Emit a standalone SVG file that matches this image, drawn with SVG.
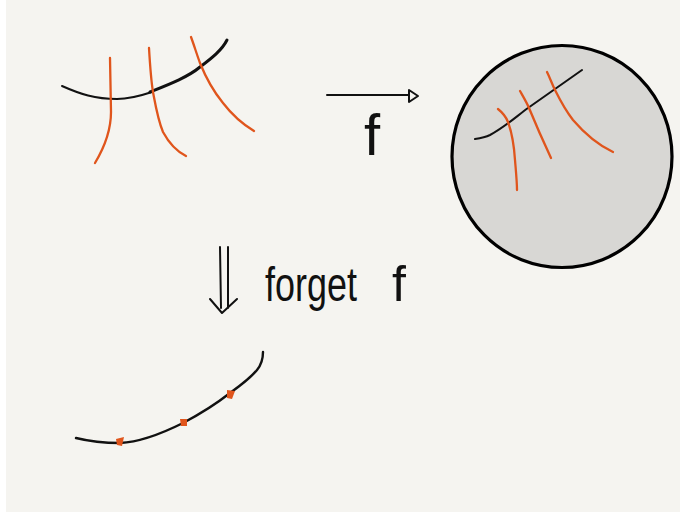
<svg xmlns="http://www.w3.org/2000/svg" width="680" height="512" viewBox="0 0 680 512">
<style>
.blk{fill:none;stroke:#111;stroke-linecap:round;stroke-linejoin:round}
.org{fill:none;stroke:#e0551c;stroke-width:2.3;stroke-linecap:round}
.hand{font-family:"Liberation Sans",Arial,sans-serif;fill:#111}
</style>
<rect width="680" height="512" fill="#ffffff"/>
<rect x="6" y="0" width="674" height="512" fill="#f5f4f0"/>
<g id="source">
<path class="blk" stroke-width="2" d="M62,86 C80,94 95,99 117,99 C130,99 140,96 152,92"/>
<path class="blk" stroke-width="3" d="M150,92 C170,84 188,77 200,67 C212,58 222,50 227,40"/>
<path class="org" d="M110,58 L111,112 C111,130 104,148 95,163"/>
<path class="org" d="M149,48 C150,65 151,80 153,92 C156,108 158,120 163,132 C170,145 178,152 186,156"/>
<path class="org" d="M191,37 C194,45 197,55 200,63 C206,78 214,92 223,103 C233,116 244,125 254,131"/>
</g>
<g id="image">
<ellipse cx="562" cy="156.5" rx="110" ry="111" fill="#d8d7d4" stroke="#000" stroke-width="3.2"/>
<path class="blk" stroke-width="2" d="M475,139 C482,138 486,137 490,135 C505,127 517,116 528,108 C545,96 565,82 582,70"/>
<path class="org" d="M498,109 C503,113 506,117 508,122 C512,133 514,145 515,160 C516,172 517,182 517,190"/>
<path class="org" d="M520,91 C524,98 527,103 529,108 C536,125 544,143 551,158"/>
<path class="org" d="M547,72 C550,78 552,84 555,90 C560,100 566,111 573,120 C585,134 598,145 613,152"/>
</g>
<g id="label-f">
<text class="hand" x="364" y="155" font-size="58">f</text>
</g>
<g id="result">
<path class="blk" stroke-width="2.4" d="M76,438 C92,442 105,443 120,443 C142,442 165,432 183,423 C200,414 216,404 230,393 C244,383 252,376 257,370 C262,364 263,358 263,352"/>
<path d="M116,439 L124,437 L122,446 L117,445 Z" fill="#e0551c"/>
<path d="M180,419 L187,419 L187,426 L181,426 Z" fill="#e0551c"/>
<path d="M227,390 L235,391 L232,399 L227,398 Z" fill="#e0551c"/>
</g>
<g id="label-forget">
<text class="hand" x="265" y="301" font-size="48" textLength="92" lengthAdjust="spacingAndGlyphs">forget</text>
<text class="hand" x="392" y="301" font-size="50">f</text>
</g>
<g id="connectors">
<path class="blk" stroke-width="2" d="M327,95 L409,95"/>
<path class="blk" stroke-width="2" d="M409,90 L418,96 L409,102 Z" fill="#f5f4f0"/>
<path class="blk" stroke-width="2" d="M220,247 L221,308 M228,247 L228,308 M210,299 L222,313 L237,299"/>
</g>
</svg>
